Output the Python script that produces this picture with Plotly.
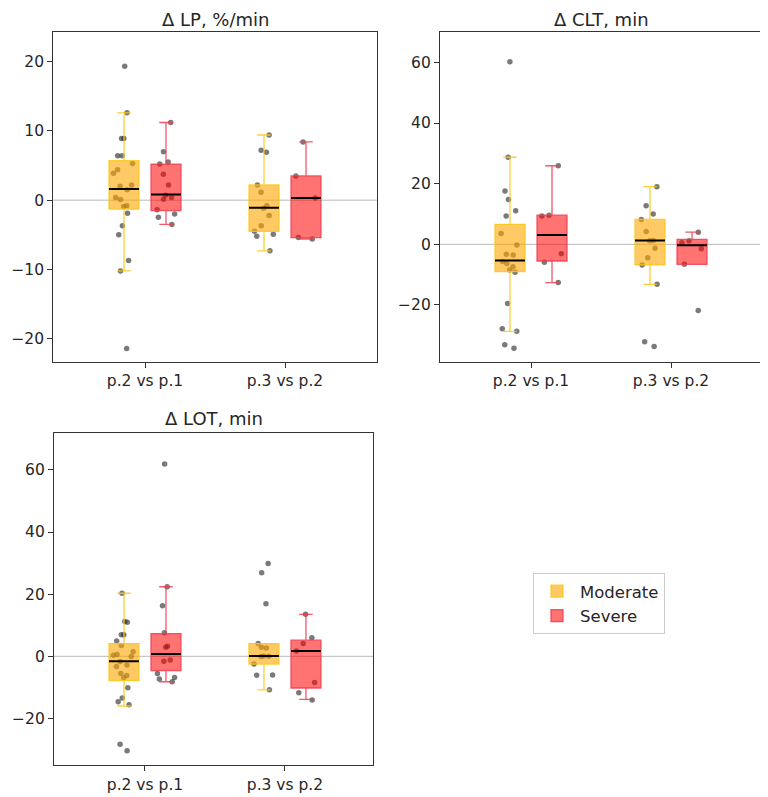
import plotly.graph_objects as go

categories = ["p.2 vs p.1", "p.3 vs p.2"]
groups = ["Moderate", "Severe"]

# ---- Δ LP, %/min ----
lp_mod_pts = [
    [19.3, 12.6, 8.9, 8.9, 6.4, 6.4, 5.3, 4.4, 3.9, 2.2, 2.0, 1.5, 0.4, 0.1, -0.8, -0.9, -1.9, -3.7, -5.0, -8.7, -10.2, -21.4],
    [9.4, 7.2, 6.9, 2.2, 1.15, -0.8, -1.15, -2.2, -3.7, -4.5, -4.9, -5.2, -7.3],
]
lp_sev_pts = [
    [11.2, 7.0, 5.5, 5.2, 3.75, 2.2, 0.7, 0.4, 0.15, -1.4, -2.0, -2.45, -3.5],
    [8.4, 3.5, 0.3, -5.4, -5.6],
]
# (lower whisker, q1, median, q3, upper whisker)
lp_mod_box = [(-10.2, -1.3, 1.6, 5.7, 12.6), (-7.3, -4.5, -1.1, 2.2, 9.4)]
lp_sev_box = [(-3.5, -1.5, 0.8, 5.2, 11.2), (-5.6, -5.4, 0.3, 3.5, 8.4)]

# ---- Δ CLT, min ----
clt_mod_pts = [
    [60.2, 28.7, 17.6, 14.8, 11.1, 9.3, 3.6, -0.2, -3.3, -3.5, -5.7, -6.3, -7.4, -8.5, -9.2, -19.5, -27.8, -28.7, -33.1, -34.3],
    [19.0, 12.7, 10.0, 8.2, 4.2, 1.3, 1.2, -1.3, -4.4, -6.8, -13.2, -32.1, -33.7],
]
clt_sev_pts = [
    [25.9, 9.6, 9.3, -3.1, -5.9, -12.6],
    [4.0, 1.2, 0.5, -1.5, -6.6, -21.8],
]
clt_mod_box = [(-28.7, -9.0, -5.3, 6.6, 28.7), (-13.2, -6.8, 1.3, 8.2, 19.0)]
clt_sev_box = [(-12.6, -5.5, 3.1, 9.6, 25.9), (-6.6, -6.6, -0.3, 1.6, 4.0)]

# ---- Δ LOT, min ----
lot_mod_pts = [
    [20.3, 11.2, 11.0, 6.9, 6.9, 4.9, 3.5, 1.5, 0.6, 0.3, -0.1, -1.7, -2.8, -3.3, -5.5, -6.2, -6.9, -10.1, -13.4, -14.6, -15.6, -28.3, -30.4],
    [29.9, 26.9, 16.9, 4.1, 2.9, 2.7, 0.1, 0.0, -0.1, -2.5, -6.0, -6.1, -10.8],
]
lot_sev_pts = [
    [61.9, 22.4, 16.3, 7.6, 3.2, 2.9, -1.2, -1.6, -5.5, -6.8, -7.3, -8.2],
    [13.5, 6.0, 4.1, 1.7, -8.4, -11.7, -14.1],
]
lot_mod_box = [(-16.0, -7.8, -1.6, 4.1, 20.3), (-10.8, -2.5, 0.1, 4.1, 4.1)]
lot_sev_box = [(-8.2, -4.6, 0.75, 7.3, 22.4), (-13.9, -10.2, 1.7, 5.2, 13.5)]

titles = ["Δ LP, %/min", "Δ CLT, min", "Δ LOT, min"]
lp_ticks = [-20, -10, 0, 10, 20]
min_ticks = [-20, 0, 20, 40, 60]

# ---- styling / layout helpers ----
W, H = 768, 797
PAGE_OFF = 8  # default body margin of the html page


def px_x(X):
    return (X - PAGE_OFF) / W


def px_y(Y):
    return 1 - (Y - PAGE_OFF) / H


FONT = "DejaVu Sans"
TXT = "#262626"
fills = {"Moderate": "rgba(255,165,0,0.6)", "Severe": "rgba(255,0,0,0.55)"}
edges = {"Moderate": "rgba(250,200,20,0.85)", "Severe": "rgba(240,60,80,0.85)"}
offset = {"Moderate": -0.15, "Severe": 0.15}
BOXW = 0.214

panels = [
    dict(mod_pts=lp_mod_pts, sev_pts=lp_sev_pts, mod_box=lp_mod_box, sev_box=lp_sev_box,
         xa="x", ya="y", xdom=[px_x(53.3), px_x(376.7)], ydom=[px_y(361.7), px_y(31.7)],
         xr=[-0.655, 1.655], yr=[-23.3, 24.3], ticks=lp_ticks, ty=8, anchor="top"),
    dict(mod_pts=clt_mod_pts, sev_pts=clt_sev_pts, mod_box=clt_mod_box, sev_box=clt_sev_box,
         xa="x2", ya="y2", xdom=[px_x(440), px_x(763)], ydom=[px_y(361.7), px_y(31.7)],
         xr=[-0.65, 1.657], yr=[-38.7, 70.1], ticks=min_ticks, ty=8, anchor="top"),
    dict(mod_pts=lot_mod_pts, sev_pts=lot_sev_pts, mod_box=lot_mod_box, sev_box=lot_sev_box,
         xa="x3", ya="y3", xdom=[px_x(54), px_x(373)], ydom=[px_y(765), px_y(433.3)],
         xr=[-0.65, 1.629], yr=[-35.0, 71.8], ticks=min_ticks, ty=418, anchor="middle"),
]

fig = go.Figure()

for pi, p in enumerate(panels):
    data = {"Moderate": (p["mod_pts"], p["mod_box"]), "Severe": (p["sev_pts"], p["sev_box"])}
    for g in groups:
        pts, _ = data[g]
        for ci in range(len(categories)):
            pos = ci + offset[g]
            fig.add_trace(go.Box(
                x=[pos] * len(pts[ci]), y=pts[ci], boxpoints="all", jitter=0.8, pointpos=0,
                width=BOXW, fillcolor="rgba(0,0,0,0)", line=dict(width=0, color="rgba(0,0,0,0)"),
                marker=dict(size=5.5, color="rgba(50,50,50,0.65)"),
                showlegend=False, hoverinfo="skip", xaxis=p["xa"], yaxis=p["ya"]))
    for g in groups:
        _, box = data[g]
        for ci in range(len(categories)):
            lo, q1, med, q3, hi = box[ci]
            fig.add_trace(go.Box(
                x=[ci + offset[g]], q1=[q1], median=[med], q3=[q3], lowerfence=[lo], upperfence=[hi],
                width=BOXW, whiskerwidth=0.45, boxpoints=False,
                fillcolor=fills[g], line=dict(color=edges[g], width=1.3),
                name=g, legendgroup=g, showlegend=(pi == 0 and ci == 0),
                xaxis=p["xa"], yaxis=p["ya"]))
    for g in groups:
        _, box = data[g]
        for ci in range(len(categories)):
            med = box[ci][2]
            fig.add_trace(go.Box(
                x=[ci + offset[g]], q1=[med], median=[med], q3=[med], lowerfence=[med], upperfence=[med],
                width=BOXW, whiskerwidth=0, boxpoints=False,
                fillcolor="rgba(0,0,0,0)", line=dict(color="black", width=2),
                showlegend=False, hoverinfo="skip", xaxis=p["xa"], yaxis=p["ya"]))

layout = dict(
    width=W, height=H, margin=dict(l=0, r=0, t=0, b=0),
    paper_bgcolor="white", plot_bgcolor="white", boxmode="overlay",
    font=dict(family=FONT, size=15, color=TXT),
    legend=dict(x=px_x(533), y=px_y(573), xanchor="left", yanchor="top", bgcolor="white",
                bordercolor="#cccccc", borderwidth=1, font=dict(size=16.5, color=TXT, family=FONT),
                traceorder="normal", itemwidth=36, tracegroupgap=0),
    shapes=[], annotations=[],
)

for pi, p in enumerate(panels):
    xk = "xaxis" + p["xa"][1:]
    yk = "yaxis" + p["ya"][1:]
    axis_common = dict(showline=True, mirror=True, linecolor="#333333", linewidth=1.2,
                       ticks="outside", ticklen=5, tickcolor="#333333", showgrid=False,
                       zeroline=False, tickfont=dict(size=15.5, color=TXT, family=FONT))
    layout[xk] = dict(domain=p["xdom"], range=p["xr"], anchor=p["ya"], tickmode="array",
                      tickvals=list(range(len(categories))), ticktext=categories, **axis_common)
    layout[yk] = dict(domain=p["ydom"], range=p["yr"], anchor=p["xa"], tickmode="array",
                      tickvals=p["ticks"], ticktext=[str(t).replace("-", "−") for t in p["ticks"]],
                      **axis_common)
    layout["shapes"].append(dict(type="line", xref=p["xa"] + " domain", yref=p["ya"],
                                 x0=0, x1=1, y0=0, y1=0, layer="below",
                                 line=dict(color="#b8b8b8", width=1)))
    layout["annotations"].append(dict(text=titles[pi], xref="paper", yref="paper",
                                      x=(p["xdom"][0] + p["xdom"][1]) / 2, y=px_y(p["ty"]),
                                      xanchor="center", yanchor=p["anchor"], showarrow=False,
                                      borderpad=0, font=dict(size=18, color=TXT, family=FONT)))

fig.update_layout(**layout)
fig.write_html("out.html", config={"displayModeBar": False})
